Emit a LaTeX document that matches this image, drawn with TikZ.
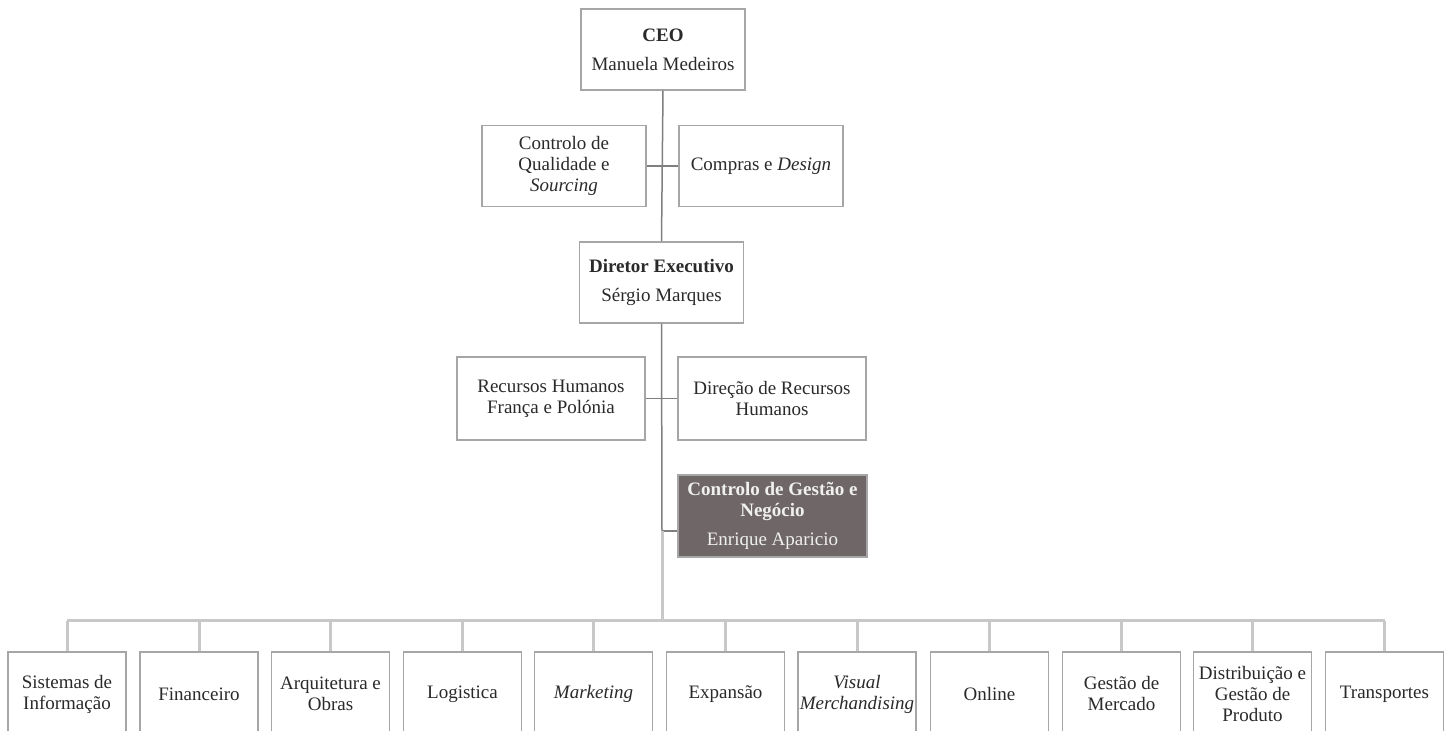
\documentclass[tikz,border=0pt]{standalone}
\usepackage{fontspec}
\setmainfont{Liberation Serif}
\definecolor{boxgray}{HTML}{A6A6A6}
\definecolor{linedark}{HTML}{7F7F7F}
\definecolor{linelight}{HTML}{C8C8C8}
\definecolor{darkfill}{HTML}{6F6767}
\definecolor{textcol}{HTML}{2A2A2A}
\begin{document}
\begin{tikzpicture}[x=0.5pt,y=-0.5pt,
  orgbox/.style={draw=boxgray, line width=0.75pt, fill=white, align=center, inner sep=0pt,
    text=textcol, font=\fontsize{9.5pt}{10.5pt}\selectfont},
  topbox/.style={orgbox, minimum width=82pt, minimum height=40.5pt},
  midbox/.style={orgbox, minimum width=94pt, minimum height=41.5pt},
  leafbox/.style={orgbox, minimum width=59pt, minimum height=42pt},
  darkbox/.style={orgbox, draw=boxgray, fill=darkfill, text=white!94!black, minimum width=94.5pt, minimum height=41pt},
  upline/.style={draw=linedark, line width=0.75pt},
  lowline/.style={draw=linelight, line width=1.5pt}]
\clip (0,0) rectangle (1453,731);
\fill[white] (0,0) rectangle (1453,731);
% upper hierarchy
\node[topbox] (ceo) at (663,49.5) {\textbf{CEO}\\[4pt]Manuela Medeiros};
\node[topbox] (cq) at (564,166) {Controlo de\\Qualidade e\\\textit{Sourcing}};
\node[topbox] (cd) at (761,166) {Compras e \textit{Design}};
\node[topbox] (de) at (661.5,282.5) {\textbf{Diretor Executivo}\\[4pt]Sérgio Marques};
\node[midbox] (rhf) at (551,398.5) {Recursos Humanos\\França e Polónia};
\node[midbox] (drh) at (772,398.5) {Direção de Recursos\\Humanos};
\node[darkbox] (cgn) at (772.5,516) {\textbf{Controlo de Gestão e}\\\textbf{Negócio}\\[4pt]Enrique Aparicio};
\coordinate (j3) at (662,531);
\coordinate (bus) at (662,621);
% bottom level
\node[leafbox] (b1) at (67,694) {Sistemas de\\Informação};
\node[leafbox] (b2) at (199,694) {Financeiro};
\node[leafbox] (b3) at (330.5,694) {Arquitetura e\\Obras};
\node[leafbox] (b4) at (462.5,694) {Logistica};
\node[leafbox] (b5) at (593.5,694) {\textit{Marketing}};
\node[leafbox] (b6) at (725.5,694) {Expansão};
\node[leafbox] (b7) at (857,694) {\textit{Visual}\\\textit{Merchandising}};
\node[leafbox] (b8) at (989.5,694) {Online};
\node[leafbox] (b9) at (1121.5,694) {Gestão de\\Mercado};
\node[leafbox] (b10) at (1252.5,694) {Distribuição e\\Gestão de\\Produto};
\node[leafbox] (b11) at (1384.5,694) {Transportes};
% connectors
\draw[upline] (ceo.south) -- (de.north);
\draw[upline] (cq.east) -- (cd.west);
\draw[upline] (de.south) -- (j3);
\draw[upline] (rhf.east) -- (drh.west);
\draw[upline] (j3) -- (j3 -| cgn.west);
\draw[lowline] (j3) -- (bus);
\draw[lowline] (b1.north |- bus) -- (b11.north |- bus);
\foreach \b in {b1,b2,b3,b4,b5,b6,b7,b8,b9,b10,b11}
  \draw[lowline] (\b.north |- bus) -- (\b.north);
\end{tikzpicture}
\end{document}
